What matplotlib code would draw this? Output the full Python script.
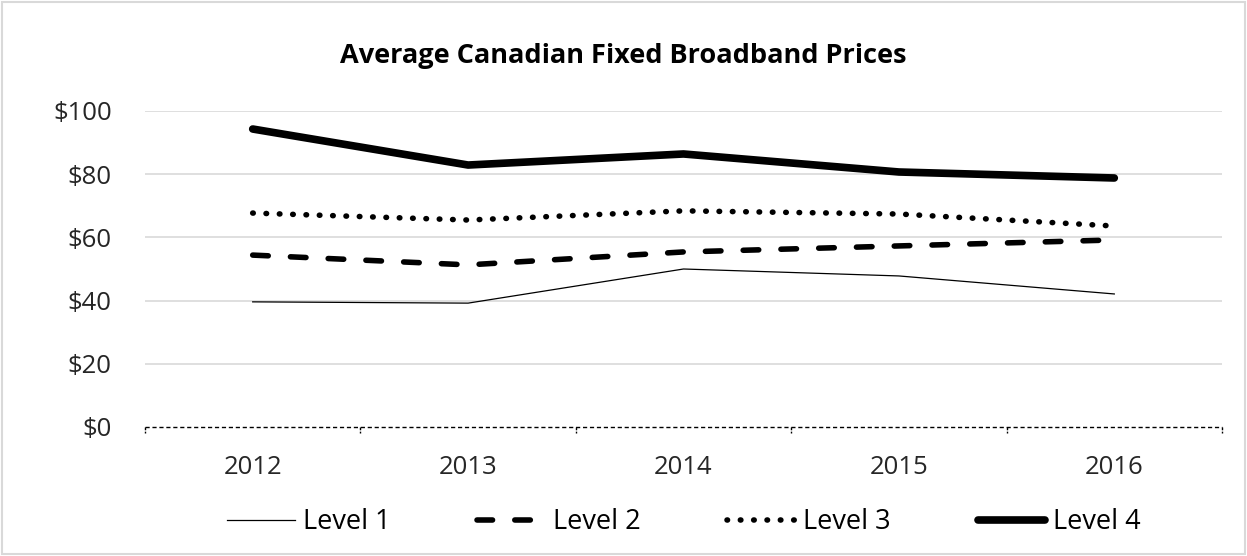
import matplotlib
matplotlib.use("Agg")
import matplotlib.pyplot as plt
from matplotlib.patches import Rectangle

years = ["2012", "2013", "2014", "2015", "2016"]
level1 = [39.6, 39.2, 50.0, 47.8, 42.1]
level2 = [54.4, 51.3, 55.4, 57.3, 59.2]
level3 = [67.7, 65.5, 68.4, 67.4, 63.6]
level4 = [94.3, 82.9, 86.4, 80.7, 78.8]
yticks = [0, 20, 40, 60, 80, 100]

plt.rcParams["font.family"] = ["Open Sans", "DejaVu Sans"]

fig = plt.figure(figsize=(12.47, 5.56), dpi=100)
ax = fig.add_axes([145 / 1247, 1 - 427 / 556, (1222 - 145) / 1247, (427 - 111) / 556])

x = range(len(years))
ax.plot(x, level1, color="black", lw=0.9, label="Level 1")
ax.plot(x, level2, color="black", lw=4, dashes=(2.8, 4), dash_capstyle="round", label="Level 2")
ax.plot(x, level3, color="black", lw=4, dashes=(0.1, 2.3), dash_capstyle="round", label="Level 3")
ax.plot(x, level4, color="black", lw=5.5, solid_capstyle="round", label="Level 4")

ax.set_xlim(-0.5, len(years) - 0.5)
ax.set_ylim(0, 100)
ax.set_yticks(yticks)
ax.set_yticklabels([f"${v}" for v in yticks])
ax.set_xticks(list(x))
ax.set_xticklabels(years)
ax.tick_params(axis="both", length=0, labelsize=18.5, colors="#262626")
ax.tick_params(axis="y", pad=24)
ax.tick_params(axis="x", pad=20)

for v in yticks[1:]:
    ax.axhline(v, color="#d9d9d9", lw=1.2, zorder=0)
for s in ax.spines.values():
    s.set_visible(False)

# dashed category axis with boundary ticks
ax.axhline(0, color="black", lw=1, ls=(0, (3, 2)), zorder=1, clip_on=False)
for b in [i - 0.5 for i in range(len(years) + 1)]:
    ax.plot([b, b], [0, -1.8], color="black", lw=1, ls=(0, (2, 1)), clip_on=False)

fig.text(0.5, 1 - 56 / 556, "Average Canadian Fixed Broadband Prices",
         ha="center", va="center", fontsize=19.5, fontweight="bold")

fig.legend(loc="center", bbox_to_anchor=(684 / 1247, 1 - 522 / 556), ncol=4, frameon=False,
           fontsize=19.5, handlelength=2.5, handletextpad=0.3, columnspacing=3.2)

fig.add_artist(Rectangle((0.002, 0.003), 0.996, 0.994, transform=fig.transFigure,
                         fill=False, edgecolor="#d9d9d9", lw=1.5))

fig.savefig("out.png", dpi=100)
